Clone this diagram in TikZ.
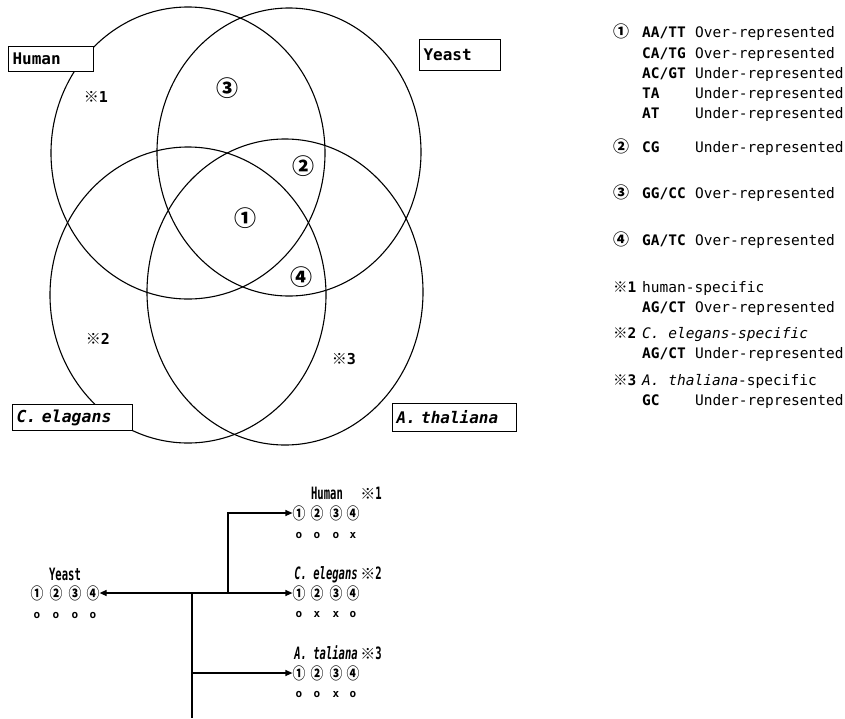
\documentclass[tikz,border=0pt]{standalone}
\usepackage{fontspec}
\usetikzlibrary{arrows.meta}
\setmainfont{DejaVu Sans}
\setmonofont{DejaVu Sans Mono}
\newfontfamily\cjkfont{Noto Sans CJK JP}
\newfontfamily\cjknarrow[FakeStretch=0.8]{Noto Sans CJK JP}
\newfontfamily\narrowfont[FakeStretch=0.62]{DejaVu Sans Mono}

\tikzset{
  venn/.style={line width=1.1pt},
  tagbox/.style={draw, fill=white, line width=1.1pt, anchor=north west,
    inner xsep=4pt, inner ysep=0pt, align=left},
  region/.style={inner sep=0pt, font=\cjkfont\bfseries\fontsize{22}{22}\selectfont},
  note/.style={inner sep=0pt, font=\ttfamily\bfseries\fontsize{15}{15}\selectfont},
  code/.style={anchor=base west, inner sep=0pt, font=\ttfamily\bfseries\fontsize{14.5}{16}\selectfont},
  desc/.style={anchor=base west, inner sep=0pt, font=\ttfamily\fontsize{14.5}{16}\selectfont},
  legmark/.style={anchor=base, inner sep=0pt, font=\cjkfont\bfseries\fontsize{16}{16}\selectfont},
  legnote/.style={anchor=base west, inner sep=0pt, font=\ttfamily\bfseries\fontsize{14.5}{16}\selectfont},
  dig/.style={inner sep=0pt, font=\cjknarrow\bfseries\fontsize{16}{16}\selectfont},
  yn/.style={inner sep=0pt, font=\ttfamily\bfseries\fontsize{11}{11}\selectfont},
  sp/.style={anchor=base, inner sep=0pt, font=\narrowfont\bfseries\fontsize{17}{17}\selectfont},
  spit/.style={sp, font=\narrowfont\bfseries\itshape\fontsize{17}{17}\selectfont},
  arr/.style={line width=1.2pt, -{Triangle[length=7pt,width=6pt]}},
  tree/.style={line width=1.2pt}
}
\newcommand{\refmark}{{\cjkfont\bfseries ※}}
\newcommand{\smallrefmark}{{\cjkfont\bfseries\fontsize{15}{15}\selectfont ※}}

\begin{document}
\begin{tikzpicture}[x=1pt,y=-1pt]
\useasboundingbox (0,0) rectangle (845,718);

% ---- four-set Venn diagram ----
\draw[venn] (188,153) ellipse [x radius=137pt, y radius=146pt];
\draw[venn] (289,152) ellipse [x radius=132pt, y radius=144pt];
\draw[venn] (188,295) ellipse [x radius=138pt, y radius=148pt];
\draw[venn] (285,292) ellipse [x radius=138pt, y radius=153pt];

\node[tagbox, text width=77pt, minimum height=25pt, font=\ttfamily\bfseries\fontsize{16}{16}\selectfont] (human) at (8,46) {Human};
\node[tagbox, text width=73pt, minimum height=31pt, font=\ttfamily\bfseries\fontsize{16}{16}\selectfont] (yeast) at (419,39) {Yeast\\[6pt]};
\node[tagbox, text width=112pt, minimum height=26pt, font=\ttfamily\bfseries\itshape\fontsize{16.5}{16}\selectfont] (celeg) at (12,404) {C. elagans};
\node[tagbox, text width=116pt, minimum height=28pt, font=\ttfamily\bfseries\itshape\fontsize{16}{16}\selectfont] (athal) at (392,403) {A. thaliana};

\node[region] (r1) at (245,218) {①};
\node[region] (r2) at (303,166) {②};
\node[region] (r3) at (227,88) {③};
\node[region] (r4) at (301,277) {④};
\node[note] (s1) at (96,97) {\refmark 1};
\node[note] (s2) at (98,339) {\refmark 2};
\node[note] (s3) at (344,359) {\refmark 3};

% ---- legend ----
\node[legmark] (m1) at (621,37) {①};
\node[code] (c1a) at (642,37) {AA/TT};  \node[desc] (d1a) at (695,37) {Over-represented};
\node[code] (c1b) at (642,58) {CA/TG};  \node[desc] (d1b) at (695,58) {Over-represented};
\node[code] (c1c) at (642,78) {AC/GT};  \node[desc] (d1c) at (695,78) {Under-represented};
\node[code] (c1d) at (642,98) {TA};     \node[desc] (d1d) at (695,98) {Under-represented};
\node[code] (c1e) at (642,118) {AT};    \node[desc] (d1e) at (695,118) {Under-represented};

\node[legmark] (m2) at (621,152) {②};
\node[code] (c2) at (642,152) {CG};     \node[desc] (d2) at (695,152) {Under-represented};

\node[legmark] (m3) at (621,198) {③};
\node[code] (c3) at (642,198) {GG/CC};  \node[desc] (d3) at (695,198) {Over-represented};

\node[legmark] (m4) at (621,245) {④};
\node[code] (c4) at (642,245) {GA/TC};  \node[desc] (d4) at (695,245) {Over-represented};

\node[legnote] (n1) at (613,292) {\refmark 1};
\node[desc] (t1) at (642,292) {human-specific};
\node[code] (c5) at (642,312) {AG/CT};  \node[desc] (d5) at (695,312) {Over-represented};

\node[legnote] (n2) at (613,338) {\refmark 2};
\node[desc] (t2) at (642,338) {\itshape C. elegans-specific};
\node[code] (c6) at (642,358) {AG/CT};  \node[desc] (d6) at (695,358) {Under-represented};

\node[legnote] (n3) at (613,385) {\refmark 3};
\node[desc] (t3) at (642,385) {{\itshape A. thaliana}-specific};
\node[code] (c7) at (642,405) {GC};     \node[desc] (d7) at (695,405) {Under-represented};

% ---- tree of shared features ----
\node[sp] (ylab) at (65,580) {Yeast};
\node[dig] (y1) at (37,593) {①};
\node[dig] (y2) at (56,593) {②};
\node[dig] (y3) at (75,593) {③};
\node[dig] (y4) at (93,593) {④};
\node[yn] (yo1) at (37,615) {o};
\node[yn] (yo2) at (56,615) {o};
\node[yn] (yo3) at (75,615) {o};
\node[yn] (yo4) at (93,615) {o};

\node[sp] (hlab) at (327,499) {Human};
\node[sp] (hs) at (371,499) {\smallrefmark 1};
\node[dig] (h1) at (299,513) {①};
\node[dig] (h2) at (317,513) {②};
\node[dig] (h3) at (336,513) {③};
\node[dig] (h4) at (353,513) {④};
\node[yn] (ho1) at (299,535) {o};
\node[yn] (ho2) at (317,535) {o};
\node[yn] (ho3) at (336,535) {o};
\node[yn] (ho4) at (353,535) {x};

\node[spit] (clab) at (326,579) {C. elegans};
\node[sp] (cs) at (371,579) {\smallrefmark 2};
\node[dig] (ce1) at (299,593) {①};
\node[dig] (ce2) at (317,593) {②};
\node[dig] (ce3) at (336,593) {③};
\node[dig] (ce4) at (353,593) {④};
\node[yn] (co1) at (299,614) {o};
\node[yn] (co2) at (317,614) {x};
\node[yn] (co3) at (336,614) {x};
\node[yn] (co4) at (353,614) {o};

\node[spit] (alab) at (326,659) {A. taliana};
\node[sp] (as) at (371,659) {\smallrefmark 3};
\node[dig] (a1) at (299,673) {①};
\node[dig] (a2) at (317,673) {②};
\node[dig] (a3) at (336,673) {③};
\node[dig] (a4) at (353,673) {④};
\node[yn] (ao1) at (299,694) {o};
\node[yn] (ao2) at (317,694) {o};
\node[yn] (ao3) at (336,694) {x};
\node[yn] (ao4) at (353,694) {o};

\coordinate (jA) at (192,593);
\coordinate (jB) at (228,593);
\coordinate (jC) at (192,673);
\coordinate (root) at (192,718);

\draw[arr] (jA) -- (y4.east);
\draw[arr] (jA) -- (ce1.west);
\draw[arr] (jB) |- (h1.west);
\draw[tree] (jA) -- (root);
\draw[arr] (jC) -- (a1.west);
\end{tikzpicture}
\end{document}
